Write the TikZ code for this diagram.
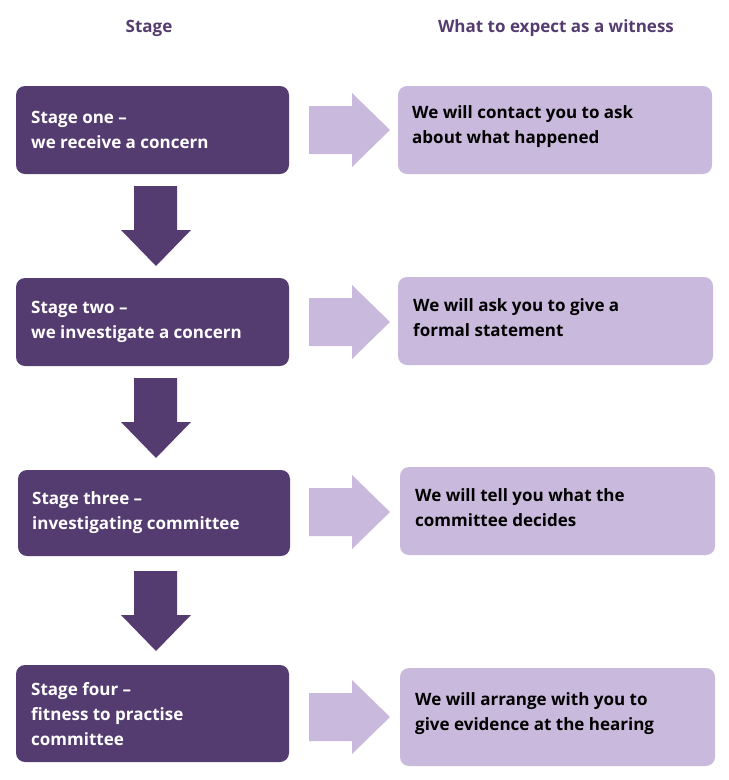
\documentclass[tikz,border=0pt]{standalone}
\usepackage{fontspec}
\setmainfont{Open Sans}
\definecolor{dark}{HTML}{553C70}
\definecolor{light}{HTML}{C9B9DC}
\definecolor{head}{HTML}{553C70}
\begin{document}
\begin{tikzpicture}[x=1pt,y=-1pt,
  box/.style={rounded corners=9pt,inner sep=0pt},
  txt/.style={anchor=west,align=left,font=\fontsize{17}{25}\selectfont\bfseries,inner sep=0pt},
  hd/.style={font=\fontsize{17}{20}\selectfont\bfseries,text=head}]
\useasboundingbox (0,0) rectangle (729,780);
\node[hd] (h1) at (149,28) {Stage};
\node[hd] (h2) at (556,28) {What to expect as a witness};
% left boxes
\fill[dark,box] (16,86) rectangle (289,174);
\fill[dark,box] (16,278) rectangle (289,366);
\fill[dark,box] (18,470) rectangle (290,556);
\fill[dark,box] (16,665) rectangle (289,762);
\node[txt,text=white] (l1) at (31,130) {Stage one –\\we receive a concern};
\node[txt,text=white] (l2) at (31,322) {Stage two –\\we investigate a concern};
\node[txt,text=white] (l3) at (32,513) {Stage three –\\investigating committee};
\node[txt,text=white] (l4) at (31,714) {Stage four –\\fitness to practise\\committee};
% right boxes
\fill[light,box] (398,86) rectangle (712,174);
\fill[light,box] (398,277) rectangle (713,365);
\fill[light,box] (400,467) rectangle (715,555);
\fill[light,box] (400,668) rectangle (715,766);
\node[txt,text=black] (r1) at (412,127) {We will contact you to ask\\about what happened};
\node[txt,text=black] (r2) at (413,318) {We will ask you to give a\\formal statement};
\node[txt,text=black] (r3) at (415,508) {We will tell you what the\\committee decides};
\node[txt,text=black] (r4) at (415,714) {We will arrange with you to\\give evidence at the hearing};
% right arrows
\foreach \c in {130,322,512,717}{
  \fill[light] (309,\c-24) -- (352,\c-24) -- (352,\c-37) -- (390,\c) -- (352,\c+37) -- (352,\c+24) -- (309,\c+24) -- cycle;}
% down arrows
\foreach \t/\b in {186/266,378/458,571/651}{
  \fill[dark] (134,\t) -- (177,\t) -- (177,\b-36) -- (191,\b-36) -- (156,\b) -- (121,\b-36) -- (134,\b-36) -- cycle;}
\end{tikzpicture}
\end{document}
